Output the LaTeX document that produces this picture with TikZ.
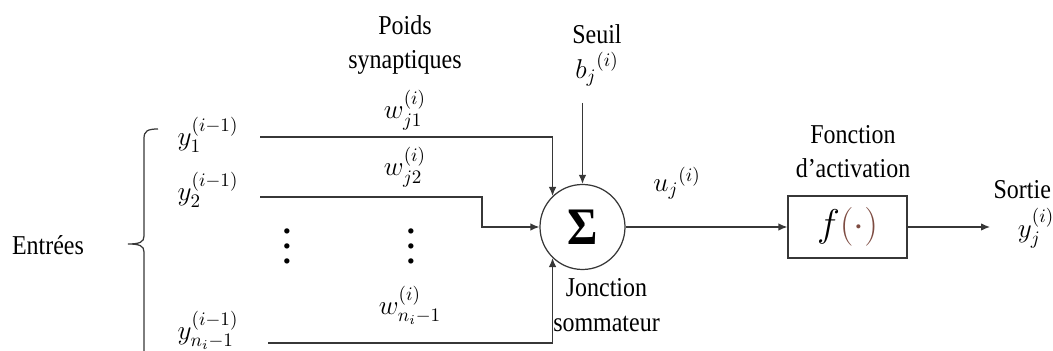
\documentclass[tikz,border=0pt]{standalone}
\usepackage{fix-cm}
\usepackage{amsmath, amssymb}
\usepackage{fontspec}
\setmainfont{Liberation Serif}[FakeStretch=0.88]
\usetikzlibrary{arrows.meta, positioning}
\definecolor{brun}{RGB}{125,75,65}
\definecolor{trait}{RGB}{55,55,55}
\newcommand{\puce}{\hbox{\fontsize{7}{7}\selectfont$\bullet$}}
\newcommand{\pointsv}{\vbox{\baselineskip=8.5pt\puce\puce\puce}}

\begin{document}
\begin{tikzpicture}[fil/.style={draw=trait, line width=0.7pt},
    fleche/.style={fil, -{Latex[length=1.8mm,width=1.5mm]}},
    txt/.style={font=\fontsize{15.5}{19.5}\selectfont, inner sep=1pt, align=center}]
    \useasboundingbox (0,0) rectangle (21.06,7.02);
    % entrees
    \node[txt] (entrees) at (0.96,2.12) {Entrées};
    \node[txt] (y1) at (4.16,4.32) {$y_1^{(i-1)}$};
    \node[txt] (y2) at (4.16,3.22) {$y_2^{(i-1)}$};
    \node[txt] (yn) at (4.16,0.42) {$y_{n_i-1}^{(i-1)}$};
    \node[txt] (pts1) at (5.74,2.08) {\pointsv};
    \draw[fil] (3.16,4.44) .. controls (2.95,4.44) and (2.88,4.40) .. (2.88,4.25) -- (2.88,2.30)
        .. controls (2.88,2.18) and (2.80,2.14) .. (2.56,2.14)
        .. controls (2.80,2.14) and (2.88,2.10) .. (2.88,1.98) -- (2.88,0);
    % poids
    \node[txt] (poids) at (8.1,6.12) {Poids\\synaptiques};
    \node[txt] (w1) at (8.1,4.82) {$w_{j1}^{(i)}$};
    \node[txt] (w2) at (8.1,3.68) {$w_{j2}^{(i)}$};
    \node[txt] (wn) at (8.2,0.92) {$w_{n_i-1}^{(i)}$};
    \node[txt] (pts2) at (8.22,2.08) {\pointsv};
    % sommateur
    \node[fil, circle, minimum size=1.7cm, inner sep=0pt] (sigma) at (11.65,2.48)
        {\fontsize{30}{32}\selectfont\textbf{Σ}};
    \node[txt] (seuil) at (11.94,6.34) {Seuil};
    \node[txt] (b) at (11.94,5.64) {${b_j}^{(i)}$};
    \node[txt] (jonction) at (12.13,0.92) {Jonction\\sommateur};
    \node[txt] (u) at (13.54,3.36) {${u_j}^{(i)}$};
    % activation
    \node[fil, minimum width=2.38cm, minimum height=1.24cm, font=\fontsize{22}{26}\selectfont]
        (act) at (16.95,2.48) {$f{\color{brun}(\cdot)}$};
    \node[txt] (fonction) at (17.06,3.99) {Fonction\\d'activation};
    \node[txt, anchor=east] (sortie) at (21.06,3.22) {Sortie};
    \node[txt] (yj) at (20.72,2.45) {$y_j^{(i)}$};

    \coordinate (in1) at (5.2,4.28);
    \coordinate (in2) at (5.2,3.08);
    \coordinate (inn) at (5.36,0.16);
    \coordinate (coude) at (9.64,3.08);
    \coordinate (b0) at (11.65,4.96);
    \coordinate (fin) at (19.8,2.48);
    \draw[fleche] (in1) -| (sigma.134);
    \draw[fleche] (in2) -- (coude) |- (sigma.west);
    \draw[fleche] (inn) -| (sigma.226);
    \draw[fleche] (b0) -- (sigma.north);
    \draw[fleche] (sigma) -- (act);
    \draw[fleche] (act) -- (fin);
\end{tikzpicture}
\end{document}
